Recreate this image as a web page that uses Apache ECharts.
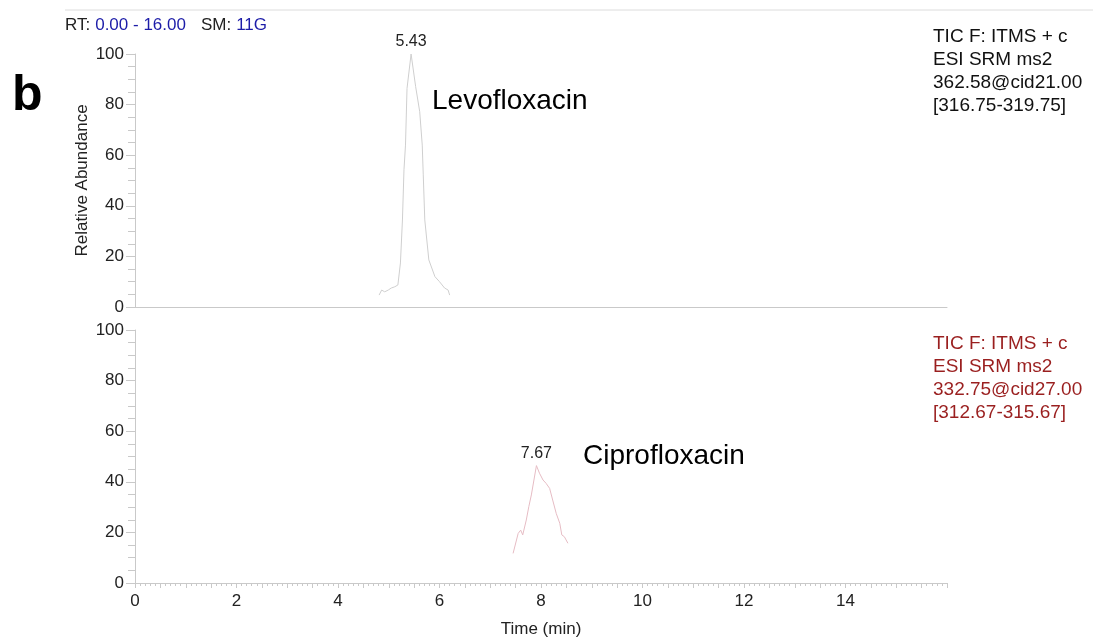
<!DOCTYPE html>
<html>
<head>
<meta charset="utf-8">
<script src="https://cdn.jsdelivr.net/npm/echarts@6/dist/echarts.min.js"></script>
<style>
  html, body { margin: 0; padding: 0; background: #fff; }
  #main { width: 1093px; height: 640px; }
</style>
</head>
<body>
<div id="main"></div>
<script>
// 数据：色谱峰
var levoTime  = [4.81, 4.86, 4.92, 4.99, 5.05, 5.12, 5.18, 5.23, 5.27, 5.30, 5.33, 5.36, 5.44, 5.53, 5.61, 5.66, 5.68, 5.71, 5.79, 5.91, 6.00, 6.10, 6.17, 6.20]
var levoAbund = [4.7, 6.7, 6.0, 6.7, 7.5, 8.0, 8.7, 17.4, 34.4, 54.2, 64.0, 86.4, 100, 87.1, 77.2, 64.0, 52.2, 34.4, 18.6, 12.0, 10.0, 7.5, 6.7, 4.7]
var ciproTime  = [7.45, 7.55, 7.60, 7.64, 7.71, 7.76, 7.81, 7.91, 7.97, 8.04, 8.10, 8.17, 8.23, 8.30, 8.37, 8.41, 8.46, 8.53]
var ciproAbund = [11.7, 19.6, 20.9, 19.0, 24.9, 30.2, 34.8, 46.4, 43.4, 40.7, 39.4, 37.4, 32.8, 27.5, 23.6, 19.0, 18.3, 15.7]
var peakLabels = ['5.43', '7.67']
var compounds  = ['Levofloxacin', 'Ciprofloxacin']
var scanInfo = [
  ['TIC F: ITMS + c', 'ESI SRM ms2', '362.58@cid21.00', '[316.75-319.75]'],
  ['TIC F: ITMS + c', 'ESI SRM ms2', '332.75@cid27.00', '[312.67-315.67]']
]

const font = 'Liberation Sans, Arial, Helvetica, sans-serif'
const axisGray = '#c9c9c9'
const textColor = '#222'

function pairs(xs, ys) {
  return xs.map((x, i) => [x, ys[i]])
}

function yAxisCfg(showName) {
  return {
    type: 'value',
    min: 0,
    max: 100,
    interval: 20,
    name: showName ? 'Relative Abundance' : '',
    nameLocation: 'middle',
    nameGap: 44,
    nameMoveOverlap: false,
    nameTextStyle: { color: textColor, fontSize: 17, fontFamily: font },
    axisLine: { show: true, lineStyle: { color: axisGray } },
    axisTick: { show: true, length: 9, lineStyle: { color: axisGray } },
    minorTick: { show: true, splitNumber: 4, length: 7, lineStyle: { color: axisGray } },
    axisLabel: { color: textColor, fontSize: 17, fontFamily: font, margin: 11 },
    splitLine: { show: false }
  }
}

var myChart = echarts.init(document.getElementById('main'))

var option = {
  animation: false,
  textStyle: { fontFamily: font },
  title: [
    {
      left: 60, top: 11,
      text: '{k|RT:} {v|0.00 - 16.00}   {k|SM:} {v|11G}',
      textStyle: {
        fontWeight: 'normal',
        rich: {
          k: { color: '#222', fontSize: 17, fontWeight: 'normal', fontFamily: font },
          v: { color: '#1c1ca8', fontSize: 17, fontWeight: 'normal', fontFamily: font }
        }
      }
    },
    {
      left: 7, top: 66,
      text: 'b',
      textStyle: { color: '#000', fontSize: 50, fontWeight: 'bold', fontFamily: font }
    }
  ],
  grid: [
    { left: 135, right: 146, top: 54, height: 253 },
    { left: 135, right: 146, top: 330, height: 253 }
  ],
  xAxis: [
    {
      gridIndex: 0, type: 'value', min: 0, max: 16,
      axisLine: { show: true, onZero: false, lineStyle: { color: axisGray } },
      axisTick: { show: false },
      axisLabel: { show: false },
      splitLine: { show: false }
    },
    {
      gridIndex: 1, type: 'value', min: 0, max: 16, interval: 0.5,
      name: 'Time (min)',
      nameLocation: 'middle',
      nameGap: 38,
      nameTextStyle: { color: textColor, fontSize: 17, fontFamily: font },
      axisLine: { show: true, onZero: false, lineStyle: { color: axisGray } },
      axisTick: { show: true, length: 5, lineStyle: { color: axisGray } },
      minorTick: { show: true, splitNumber: 5, length: 3, lineStyle: { color: axisGray } },
      axisLabel: {
        color: textColor, fontSize: 17, fontFamily: font, margin: 10,
        showMaxLabel: false,
        formatter: (v) => (v % 2 === 0 && v < 16) ? String(v) : ''
      },
      splitLine: { show: false }
    }
  ],
  yAxis: [
    Object.assign({ gridIndex: 0 }, yAxisCfg(true)),
    Object.assign({ gridIndex: 1 }, yAxisCfg(false))
  ],
  graphic: [
    {
      type: 'line',
      shape: { x1: 65, y1: 10, x2: 1093, y2: 10 },
      style: { stroke: '#dcdcdc', lineWidth: 1 }
    },
    {
      type: 'text', left: 432, top: 87,
      style: { text: compounds[0], fill: '#000', font: '28px ' + font }
    },
    {
      type: 'text', left: 583, top: 442,
      style: { text: compounds[1], fill: '#000', font: '28px ' + font }
    },
    {
      type: 'text', left: 933, top: 25,
      style: { text: scanInfo[0].join('\n'), fill: '#111', font: '19px ' + font, lineHeight: 23 }
    },
    {
      type: 'text', left: 933, top: 332,
      style: { text: scanInfo[1].join('\n'), fill: '#9a1f1f', font: '19px ' + font, lineHeight: 23 }
    }
  ],
  series: [
    {
      name: compounds[0],
      type: 'line',
      xAxisIndex: 0, yAxisIndex: 0,
      data: pairs(levoTime, levoAbund),
      symbol: 'none',
      smooth: false,
      lineStyle: { width: 1, color: '#cfcfcf' },
      markPoint: {
        symbol: 'circle', symbolSize: 0,
        data: [{ type: 'max' }],
        label: { show: true, position: 'top', distance: 4, color: textColor, fontSize: 16, fontFamily: font, formatter: peakLabels[0] }
      }
    },
    {
      name: compounds[1],
      type: 'line',
      xAxisIndex: 1, yAxisIndex: 1,
      data: pairs(ciproTime, ciproAbund),
      symbol: 'none',
      smooth: false,
      lineStyle: { width: 1, color: '#e6bcc4' },
      markPoint: {
        symbol: 'circle', symbolSize: 0,
        data: [{ type: 'max' }],
        label: { show: true, position: 'top', distance: 4, color: textColor, fontSize: 16, fontFamily: font, formatter: peakLabels[1] }
      }
    }
  ]
}

myChart.setOption(option)
</script>
</body>
</html>
